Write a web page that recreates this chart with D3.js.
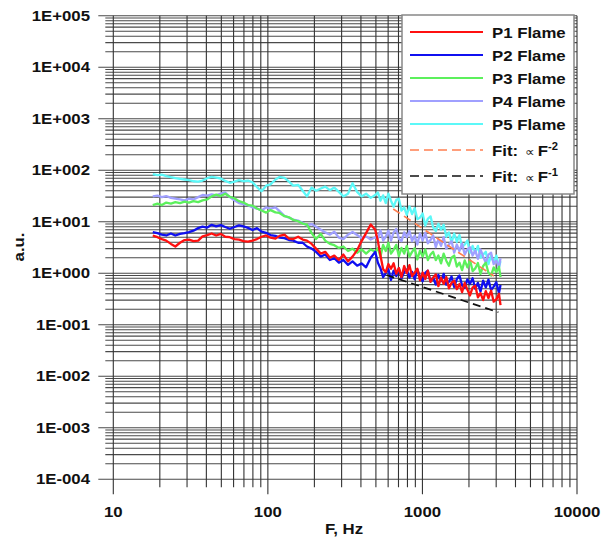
<!DOCTYPE html>
<html><head><meta charset="utf-8">
<script src="https://cdn.jsdelivr.net/npm/d3@7"></script>
<style>body{margin:0;background:#fff}svg{display:block}</style>
</head><body>
<svg id="c" width="603" height="542"></svg>
<script>
// ---------- data ----------
const freqs = [18,19.3,20.6,22,23.6,25.2,27,28.9,30.9,33,35.4,37.8,40.5,43.3,46.3,49.6,53,56.7,60.7,65,
69.5,74.4,79.6,85,91,97.5,104,112,119,128,137,146,157,168,179,192,205,220,235,252,
269,288,308,330,353,378,404,432,463,495,515,535,557,579,602,626,651,677,704,732,
762,792,824,857,891,927,964,1003,1043,1084,1128,1173,1220,1268,1319,1372,1427,1484,1543,1605,
1669,1736,1805,1878,1953,2031,2112,2197,2285,2376,2471,2570,2673,2780,2891,3007,3127,3200];

const p1 = [5.4,5.0,4.6,4.3,3.7,3.3,3.9,4.4,4.5,4.2,4.3,5.2,5.5,5.9,5.4,5.8,5.1,5.0,4.6,4.5,
4.2,4.1,4.3,4.6,5.1,5.4,4.9,4.7,5.3,5.6,4.7,4.6,5.1,4.5,4.3,3.7,3.0,2.4,2.6,2.0,
2.2,1.8,2.3,1.7,2.1,2.8,4.2,6.0,8.8,7.0,4.2,2.2,1.19,1.05,1.5,1.22,1.56,0.98,1.26,0.84,
1.38,1.0,1.43,0.88,1.02,1.22,0.73,1.03,0.77,1.12,0.68,0.82,0.95,0.56,0.82,0.62,0.84,0.51,0.65,0.72,
0.49,0.62,0.43,0.65,0.48,0.37,0.53,0.57,0.34,0.41,0.3,0.45,0.33,0.46,0.28,0.31,0.4,0.24];

const p2 = [6.3,6.0,5.6,5.4,5.9,5.4,5.8,6.0,6.3,6.7,7.5,8.0,7.7,8.7,8.1,8.6,7.9,7.3,7.9,8.5,
8.1,7.6,6.9,7.5,6.4,6.1,5.5,5.3,4.9,4.8,4.4,4.3,3.9,3.9,3.3,3.0,2.6,2.1,2.3,1.8,
1.95,1.6,1.8,1.45,1.7,1.4,1.55,1.3,2.0,2.6,1.6,1.25,0.84,1.0,1.2,0.74,1.12,0.88,1.25,0.8,
1.05,1.18,0.82,1.06,0.76,1.18,0.87,0.7,1.01,1.12,0.69,0.82,0.6,0.93,0.7,0.97,0.6,0.68,0.86,0.54,
0.77,0.9,0.58,0.52,0.76,0.62,0.8,0.5,0.65,0.44,0.72,0.53,0.75,0.47,0.55,0.67,0.41,0.59];

const p3 = [21,22.5,21,23.5,22.5,24,23,24.5,23.5,25,24,26,27,31,33.5,31.5,35,30.5,28.5,25,
23.5,21,20.5,18,16.5,15,16.8,15.2,14.8,12.8,12.2,10.8,10.2,9.2,8.8,6.0,4.6,5.8,4.3,3.7,
3.5,3.1,3.3,2.7,3.0,2.5,2.9,2.4,2.9,2.6,3.05,2.1,3.55,2.7,3.9,2.4,2.85,3.55,2.15,3.1,
2.4,3.4,2.1,2.6,3.05,1.85,2.75,2.1,2.9,1.8,2.3,2.6,1.8,2.2,1.55,2.4,1.75,1.4,2.0,2.2,
1.35,1.6,1.15,1.77,1.3,1.8,1.1,1.24,1.58,0.97,1.38,1.6,1.02,0.9,1.3,1.05,1.34,0.84];

const p4 = [31,32,30,31.5,29,28,27,26,28,27,30,33,32,34,32.5,35,37,30,26,23,
22,21,19,18,16.5,19,18,19,16,13,12,11,10.5,9.5,8.5,9,8,7,6.2,5.6,
6.4,4.9,4.6,5.6,6.3,5.5,4.8,5.2,4.5,5.0,4.7,6.8,4.3,5.1,6.7,4.3,6.2,7.2,4.7,4.2,
6.2,5.0,6.6,4.2,5.4,3.6,5.9,4.3,6.1,3.8,4.4,5.4,3.2,4.5,3.4,5.0,3.0,3.6,4.2,2.5,
3.6,2.7,3.75,2.3,2.9,3.2,2.2,2.75,1.9,2.9,2.1,1.6,2.3,2.5,1.5,1.75,1.3,1.95];

const p5 = [84,80,82,77,73,70,68,66,64,61,60,63,70,74,72,69,62,57,60,64,
61,63,58,47,39,50,53,66,74,71,60,50,52,40,31,46,40,44,48,41,
46,38,31,35,56,38,31,35,29,33,37,25.5,32.5,23,35,25.5,19.5,26.5,28,16.4,
19,13.5,19.8,14,18.5,11.2,12,14.4,8.4,11.4,12.7,7.8,6.6,9.1,7.0,8.75,5.1,6.2,3.9,5.9,
4.05,5.5,3.2,3.6,4.3,2.5,3.4,2.5,3.4,2.0,2.3,2.6,1.5,2.2,1.6,2.2,1.3,1.7];

const fitF2 = [[647,17.7],[2900,0.88]];
const fitF1 = [[586,0.92],[3100,0.174]];

const seriesNames = ["P1 Flame","P2 Flame","P3 Flame","P4 Flame","P5 Flame"];
const seriesColors = ["#ff1010","#1010f0","#5cf05c","#a0a0ff","#5cf8f8"];
const seriesValues = [p1,p2,p3,p4,p5];

const xTickVals = [10,100,1000,10000];
const xTickLabels = ["10","100","1000","10000"];
const yTickVals = [1e5,1e4,1e3,1e2,1e1,1,1e-1,1e-2,1e-3,1e-4];
const yTickLabels = ["1E+005","1E+004","1E+003","1E+002","1E+001","1E+000","1E-001","1E-002","1E-003","1E-004"];

// ---------- chart ----------
const svg = d3.select("#c");
const x = d3.scaleLog().domain([10,10000]).range([113.3,577]);
const y = d3.scaleLog().domain([1e-4,1e5]).range([479.2,15.7]);
const FONT = "'Liberation Sans', Arial, sans-serif";

const xAll = [];
for (let e=1;e<=3;e++) for (let m=1;m<=9;m++) xAll.push(m*Math.pow(10,e));
xAll.push(10000);
const yAll = [];
for (let e=-4;e<=4;e++) for (let m=1;m<=9;m++) yAll.push(m*Math.pow(10,e));
yAll.push(1e5);
const isMajor = v => Math.abs(Math.log10(v) - Math.round(Math.log10(v))) < 1e-9;

const grid = svg.append("g");
grid.selectAll("line.h").data(yAll).join("line")
  .attr("x1",d=>x(10)-(isMajor(d)?15:8)).attr("x2",x(10000))
  .attr("y1",d=>y(d)).attr("y2",d=>y(d))
  .attr("stroke","#4a4a4a").attr("stroke-width",1.1);
grid.selectAll("line.v").data(xAll).join("line")
  .attr("x1",d=>x(d)).attr("x2",d=>x(d))
  .attr("y1",y(1e5)).attr("y2",d=>y(1e-4)+(isMajor(d)?15:8))
  .attr("stroke","#333").attr("stroke-width",1.1);

function stretchedText(g, tx, ty, str, anchor, size) {
  return g.append("text")
    .attr("transform",`translate(${tx},${ty}) scale(1.12,1)`)
    .attr("text-anchor",anchor)
    .attr("font-family",FONT).attr("font-weight","bold")
    .attr("font-size",size).attr("fill","#111")
    .text(str);
}

const yl = svg.append("g");
yTickVals.forEach((v,i)=> stretchedText(yl, 90, y(v)+5.2, yTickLabels[i], "end", 15));
const xl = svg.append("g");
xTickVals.forEach((v,i)=> stretchedText(xl, x(v), 517, xTickLabels[i], "middle", 15));

stretchedText(svg, 344, 534, "F, Hz", "middle", 15);
svg.append("text")
  .attr("transform","translate(23.5,247) rotate(-90) scale(1.12,1)")
  .attr("text-anchor","middle").attr("font-family",FONT).attr("font-weight","bold")
  .attr("font-size",15).attr("fill","#111").text("a.u.");

const line = d3.line().x(d=>x(d[0])).y(d=>y(d[1]));
const plot = svg.append("g");
for (let s=4;s>=0;s--) {
  const pts = freqs.map((f,i)=>[f, seriesValues[s][i]]);
  plot.append("path").attr("d",line(pts)).attr("fill","none")
    .attr("stroke",seriesColors[s]).attr("stroke-width",2.3)
    .attr("stroke-linejoin","round");
}
plot.append("path").attr("d",line(fitF2)).attr("fill","none")
  .attr("stroke","#ff7f50").attr("stroke-width",1.7).attr("stroke-dasharray","8,5");
plot.append("path").attr("d",line(fitF1)).attr("fill","none")
  .attr("stroke","#111").attr("stroke-width",1.7).attr("stroke-dasharray","8,5");

// legend
const lg = svg.append("g");
lg.append("rect").attr("x",402).attr("y",15).attr("width",172).attr("height",179)
  .attr("fill","#fff").attr("stroke","#888").attr("stroke-width",1.5);
const rowsY = [32,55,78,101,124,150,176];
seriesNames.forEach((n,i)=>{
  lg.append("line").attr("x1",410).attr("x2",483).attr("y1",rowsY[i]).attr("y2",rowsY[i])
    .attr("stroke",seriesColors[i]).attr("stroke-width",1.8);
  stretchedText(lg, 492, rowsY[i]+5.5, n, "start", 15);
});
const fitColors = ["#ff7f50","#111"];
const fitExp = ["-2","-1"];
[0,1].forEach(k=>{
  const yy = rowsY[5+k];
  lg.append("line").attr("x1",410).attr("x2",483).attr("y1",yy).attr("y2",yy)
    .attr("stroke",fitColors[k]).attr("stroke-width",1.6).attr("stroke-dasharray","9,5");
  const t = stretchedText(lg, 492, yy+5.5, "Fit:", "start", 15);
  t.append("tspan").attr("font-weight","normal").attr("font-size",12).attr("dx",6).text("∝");
  t.append("tspan").attr("dx",3).text("F");
  t.append("tspan").attr("font-size",10).attr("dy",-6).text(fitExp[k]);
});
</script>
</body></html>
